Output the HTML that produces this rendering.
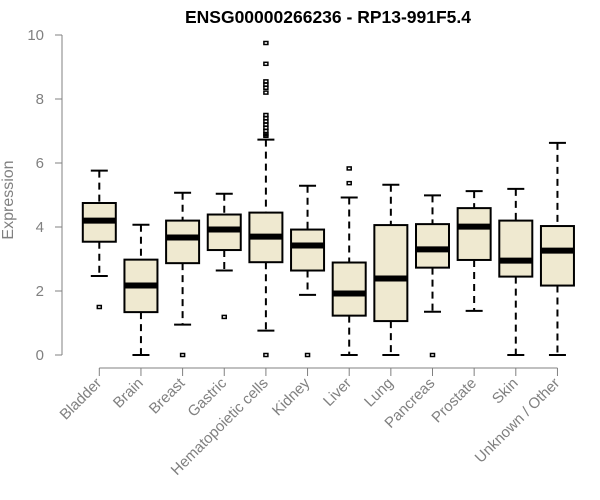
<!DOCTYPE html>
<html><head><meta charset="utf-8"><style>
body{margin:0;background:#fff}
svg{display:block;font-family:"Liberation Sans",Arial,sans-serif}
</style></head><body>
<svg id="c" width="600" height="500">
<text x="328" y="23" text-anchor="middle" font-weight="bold" font-size="17.5" fill="#000">ENSG00000266236 - RP13-991F5.4</text>
<text transform="translate(13,200) rotate(-90)" text-anchor="middle" font-size="16" fill="#808080">Expression</text>
<g id="yaxis"></g>
<g id="xaxis"></g>
<g id="boxes"></g>
</svg>
<script>
const categories=["Bladder","Brain","Breast","Gastric","Hematopoietic cells","Kidney","Liver","Lung","Pancreas","Prostate","Skin","Unknown / Other"];
const whiskerLow=[2.47,0,0.95,2.64,0.76,1.88,0,0,1.35,1.38,0,0];
const q1=[3.54,1.34,2.87,3.28,2.9,2.64,1.23,1.06,2.73,2.97,2.45,2.17];
const median=[4.2,2.17,3.67,3.92,3.7,3.42,1.92,2.39,3.3,4.01,2.95,3.26];
const q3=[4.75,2.98,4.2,4.39,4.45,3.92,2.89,4.06,4.09,4.59,4.2,4.03];
const whiskerHigh=[5.76,4.07,5.07,5.04,6.73,5.29,4.92,5.32,4.99,5.12,5.19,6.63];
const outliers=[[1.5],[],[0],[1.19],[0,9.75,9.1,8.55,8.45,8.35,8.2,7.5,7.4,7.3,7.2,7.1,7.0,6.9,6.85],[0],[5.83,5.37],[],[0],[],[],[]];
const yTicks=[0,2,4,6,8,10];
const NS="http://www.w3.org/2000/svg";
function y(v){return 355-v*32;}
function x(i){return 99.3+i*41.65;}
function mk(p,t,a){const e=document.createElementNS(NS,t);for(const k in a)e.setAttribute(k,a[k]);p.appendChild(e);return e;}
const ya=document.getElementById('yaxis'),xa=document.getElementById('xaxis'),bx=document.getElementById('boxes');
mk(ya,'line',{x1:62,x2:62,y1:y(10),y2:y(0),stroke:'#808080','stroke-width':1});
yTicks.forEach(t=>{
  mk(ya,'line',{x1:55,x2:62,y1:y(t),y2:y(t),stroke:'#808080'});
  const tx=mk(ya,'text',{x:44,y:y(t)+5,'text-anchor':'end','font-size':15,fill:'#808080'});
  tx.textContent=t;
  
  
});
mk(xa,'line',{x1:x(0),x2:x(11),y1:368,y2:368,stroke:'#808080'});
categories.forEach((c,i)=>{
  mk(xa,'line',{x1:x(i),x2:x(i),y1:368,y2:376,stroke:'#808080'});
  const tx=mk(xa,'text',{transform:`translate(${x(i)+3},${384}) rotate(-45)`,'text-anchor':'end','font-size':15,fill:'#808080'});
  tx.textContent=c;
  
  
});
categories.forEach((c,i)=>{
  const g=mk(bx,'g',{});
  
  
  const cx=x(i),hw=16.5,cw=8.5;
  mk(g,'line',{x1:cx,x2:cx,y1:y(whiskerHigh[i]),y2:y(q3[i]),stroke:'#000','stroke-width':2,'stroke-dasharray':'7,5'});
  mk(g,'line',{x1:cx,x2:cx,y1:y(q1[i]),y2:y(whiskerLow[i]),stroke:'#000','stroke-width':2,'stroke-dasharray':'7,5'});
  mk(g,'line',{x1:cx-cw,x2:cx+cw,y1:y(whiskerHigh[i]),y2:y(whiskerHigh[i]),stroke:'#000','stroke-width':2});
  mk(g,'line',{x1:cx-cw,x2:cx+cw,y1:y(whiskerLow[i]),y2:y(whiskerLow[i]),stroke:'#000','stroke-width':2});
  mk(g,'rect',{x:cx-hw,y:y(q3[i]),width:hw*2,height:y(q1[i])-y(q3[i]),fill:'#efe9d0',stroke:'#000','stroke-width':2});
  mk(g,'line',{x1:cx-hw,x2:cx+hw,y1:y(median[i]),y2:y(median[i]),stroke:'#000','stroke-width':6});
  outliers[i].forEach(o=>{
    mk(g,'rect',{x:cx-2,y:y(o)-1.5,width:4,height:3,fill:'none',stroke:'#000','stroke-width':1.5});
  });
});
</script>
</body></html>
